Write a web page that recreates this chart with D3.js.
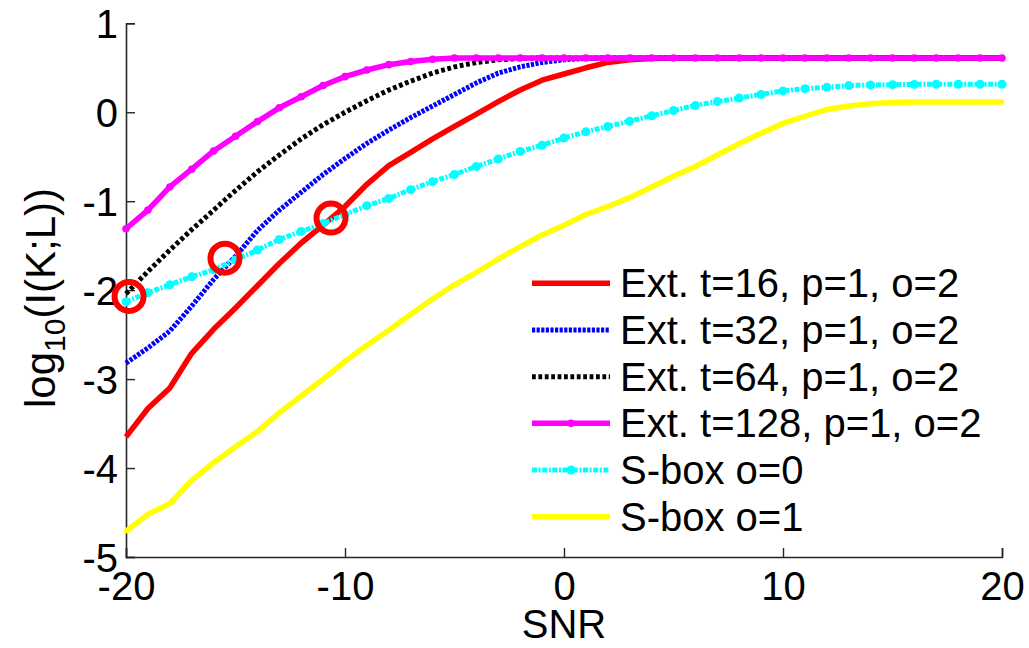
<!DOCTYPE html>
<html>
<head>
<meta charset="utf-8">
<script src="https://cdn.jsdelivr.net/npm/d3@7"></script>
<style>
  body { margin: 0; background: #fff; }
  svg { display: block; font-family: "Liberation Sans", Arial, sans-serif; }
</style>
</head>
<body>
<svg id="chart" width="1029" height="648"></svg>
<script>
// SNR grid (dB)
const snr = d3.range(-20, 21);

// log10(I(K;L)), one value per dB
const ext16 = [-3.65, -3.33, -3.10, -2.71, -2.44, -2.20, -1.95, -1.70, -1.47, -1.27,
  -1.06, -0.81, -0.60, -0.45, -0.30, -0.16, -0.02, 0.12, 0.25, 0.36,
  0.43, 0.50, 0.56, 0.59, 0.605, 0.61, 0.61, 0.61, 0.61, 0.61,
  0.61, 0.61, 0.61, 0.61, 0.61, 0.61, 0.61, 0.61, 0.61, 0.61, 0.61];
const ext32 = [-2.82, -2.65, -2.46, -2.18, -1.88, -1.62, -1.33, -1.10, -0.90, -0.70,
  -0.52, -0.35, -0.20, -0.06, 0.07, 0.20, 0.33, 0.44, 0.51, 0.56,
  0.59, 0.605, 0.61, 0.61, 0.61, 0.61, 0.61, 0.61, 0.61, 0.61,
  0.61, 0.61, 0.61, 0.61, 0.61, 0.61, 0.61, 0.61, 0.61, 0.61, 0.61];
const ext64 = [-2.04, -1.79, -1.55, -1.32, -1.10, -0.88, -0.67, -0.48, -0.30, -0.14,
  0.00, 0.13, 0.25, 0.35, 0.44, 0.51, 0.56, 0.59, 0.605, 0.61,
  0.61, 0.61, 0.61, 0.61, 0.61, 0.61, 0.61, 0.61, 0.61, 0.61,
  0.61, 0.61, 0.61, 0.61, 0.61, 0.61, 0.61, 0.61, 0.61, 0.61, 0.61];
const ext128 = [-1.31, -1.10, -0.84, -0.64, -0.435, -0.27, -0.105, 0.05, 0.175, 0.30,
  0.40, 0.475, 0.535, 0.57, 0.595, 0.61, 0.61, 0.61, 0.61, 0.61,
  0.61, 0.61, 0.61, 0.61, 0.61, 0.61, 0.61, 0.61, 0.61, 0.61,
  0.61, 0.61, 0.61, 0.61, 0.61, 0.61, 0.61, 0.61, 0.61, 0.61, 0.61];
const sbox0 = [-2.13, -2.03, -1.94, -1.85, -1.77, -1.66, -1.55, -1.43, -1.34, -1.25,
  -1.15, -1.05, -0.97, -0.87, -0.78, -0.70, -0.61, -0.525, -0.44, -0.37,
  -0.29, -0.22, -0.16, -0.10, -0.04, 0.02, 0.075, 0.12, 0.16, 0.20,
  0.24, 0.265, 0.28, 0.30, 0.307, 0.31, 0.313, 0.315, 0.315, 0.315, 0.315];
const sbox1 = [-4.71, -4.52, -4.40, -4.14, -3.94, -3.76, -3.59, -3.38, -3.19, -3.00,
  -2.80, -2.62, -2.45, -2.27, -2.10, -1.94, -1.80, -1.65, -1.51, -1.38,
  -1.27, -1.15, -1.06, -0.96, -0.84, -0.72, -0.61, -0.48, -0.355, -0.235,
  -0.125, -0.045, 0.03, 0.07, 0.095, 0.11, 0.115, 0.115, 0.115, 0.115, 0.115];

const seriesNames = ["Ext. t=16, p=1, o=2", "Ext. t=32, p=1, o=2", "Ext. t=64, p=1, o=2",
  "Ext. t=128, p=1, o=2", "S-box o=0", "S-box o=1"];

// highlighted crossing points
const circleSnr = [-19.86, -15.48, -10.64];
const circleVal = [-2.07, -1.64, -1.19];

const xTicks = [-20, -10, 0, 10, 20];
const yTicks = [-5, -4, -3, -2, -1, 0, 1];

// styles per series
const styles = [
  { color: "#ff0000", width: 5.5, dash: null, marker: 0 },
  { color: "#0000ff", width: 5, dash: "3.2,1.4", marker: 0 },
  { color: "#000000", width: 5, dash: "3.8,2.6", marker: 0 },
  { color: "#ff00ff", width: 5.5, dash: null, marker: 3.8 },
  { color: "#00ffff", width: 5, dash: "5,1.6,2,1.6", marker: 4.5 },
  { color: "#ffff00", width: 5.5, dash: null, marker: 2.4 }
];
const allValues = [ext16, ext32, ext64, ext128, sbox0, sbox1];

const svg = d3.select("#chart");
const margin = { top: 23.3, left: 126, right: 27, bottom: 91 };
const W = 1029, H = 648;
const fontPx = "40px";

const x = d3.scaleLinear().domain([-20, 20]).range([margin.left, W - margin.right]);
const y = d3.scaleLinear().domain([-5, 1]).range([H - margin.bottom, margin.top]);

// axes (left + bottom only, ticks inward)
const xAxis = svg.append("g")
  .attr("transform", `translate(0,${y(-5)})`)
  .call(d3.axisBottom(x).tickValues(xTicks).tickSize(-9).tickPadding(15).tickFormat(d3.format("d")));
const yAxis = svg.append("g")
  .attr("transform", `translate(${x(-20)},0)`)
  .call(d3.axisLeft(y).tickValues(yTicks).tickSize(-9).tickPadding(8).tickFormat(d3.format("d")));

[xAxis, yAxis].forEach(a => {
  a.select(".domain").attr("stroke", "#262626").attr("stroke-width", 1.6);
  a.selectAll(".tick line").attr("stroke", "#262626").attr("stroke-width", 1.4);
  a.selectAll(".tick text")
    .attr("fill", "#000")
    .style("font-size", fontPx)
    .style("font-family", "Liberation Sans, Arial, sans-serif");
});
// minus sign as plain hyphen like the original
svg.selectAll(".tick text").text(function () { return this.textContent.replace("−", "-"); });
xAxis.selectAll(".tick text").attr("dy", "0.71em");
yAxis.selectAll(".tick text").attr("dy", "0.36em");

// axis titles
svg.append("text")
  .attr("x", x(0)).attr("y", 638)
  .attr("text-anchor", "middle")
  .style("font-size", fontPx)
  .text("SNR");

const ylab = svg.append("text")
  .attr("transform", `translate(55,298) rotate(-90)`)
  .attr("text-anchor", "middle")
  .style("font-size", "42px");
ylab.append("tspan").text("log");
ylab.append("tspan").attr("dy", 10).style("font-size", "30px").text("10");
ylab.append("tspan").attr("dy", -10).text("(I(K;L))");

// curves
const line = d3.line().x((d, i) => x(snr[i])).y(d => y(d));
const plot = svg.append("g");

allValues.forEach((vals, k) => {
  const st = styles[k];
  plot.append("path")
    .datum(vals)
    .attr("fill", "none")
    .attr("stroke", st.color)
    .attr("stroke-width", st.width)
    .attr("stroke-linejoin", "round")
    .attr("stroke-dasharray", st.dash)
    .attr("d", line);
  if (st.marker) {
    plot.append("g").selectAll("circle")
      .data(vals)
      .join("circle")
      .attr("cx", (d, i) => x(snr[i]))
      .attr("cy", d => y(d))
      .attr("r", st.marker)
      .attr("fill", st.color);
  }
});

// red rings
svg.append("g").selectAll("circle")
  .data(circleSnr)
  .join("circle")
  .attr("cx", d => x(d))
  .attr("cy", (d, i) => y(circleVal[i]))
  .attr("r", 14.5)
  .attr("fill", "none")
  .attr("stroke", "#ff0000")
  .attr("stroke-width", 6);

// legend
const legend = svg.append("g");
const legY = d3.scaleLinear().domain([0, 5]).range([283.3, 516.7]);
seriesNames.forEach((name, k) => {
  const st = styles[k];
  const cy = legY(k);
  legend.append("line")
    .attr("x1", 532).attr("x2", 610)
    .attr("y1", cy).attr("y2", cy)
    .attr("stroke", st.color)
    .attr("stroke-width", st.width)
    .attr("stroke-dasharray", st.dash);
  if (st.marker) {
    legend.append("circle")
      .attr("cx", 571).attr("cy", cy)
      .attr("r", st.marker)
      .attr("fill", st.color);
  }
  legend.append("text")
    .attr("x", 620).attr("y", cy + 14)
    .style("font-size", fontPx)
    .text(name);
});
</script>
</body>
</html>
